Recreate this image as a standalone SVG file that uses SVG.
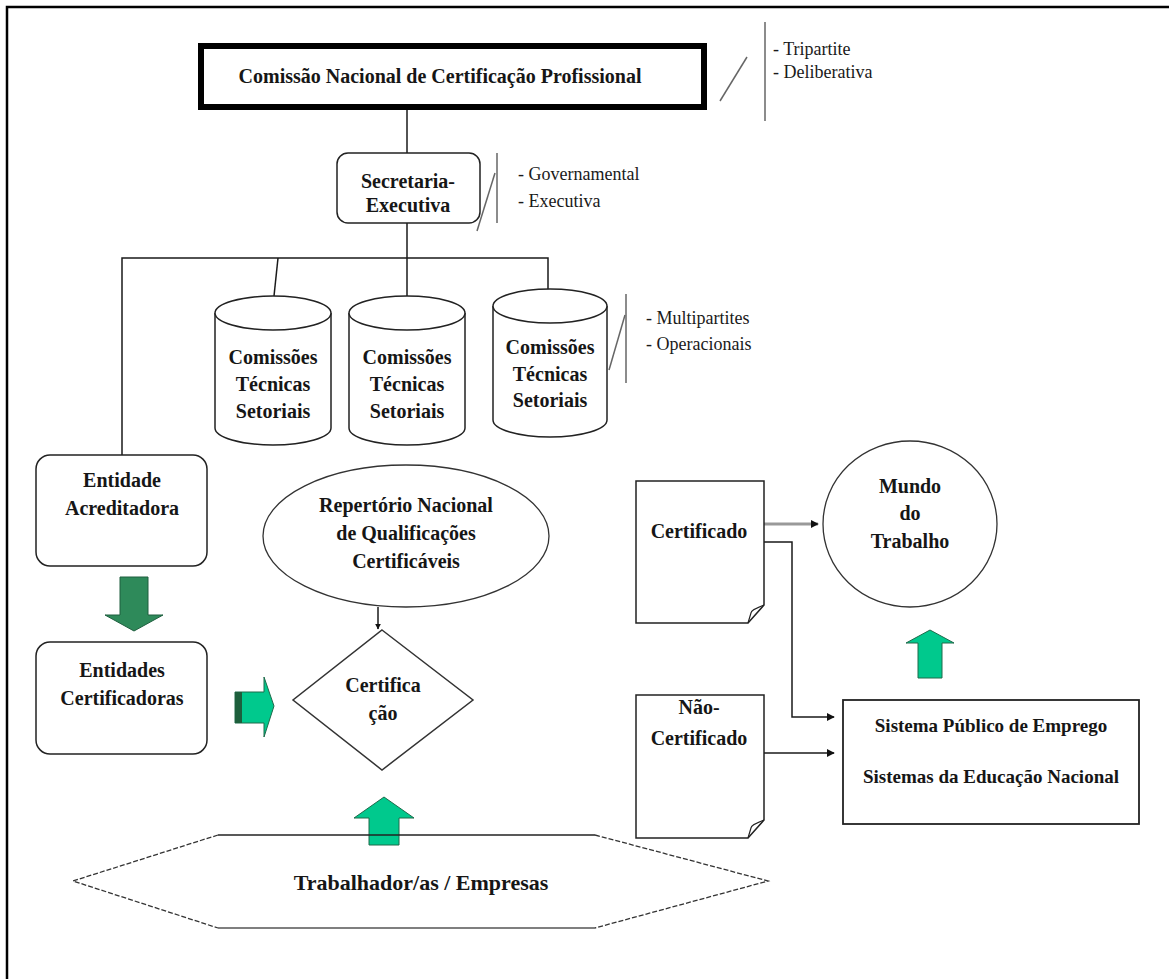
<svg xmlns="http://www.w3.org/2000/svg" width="1169" height="979" viewBox="0 0 1169 979">
<defs>
<marker id="ah" viewBox="0 0 10 10" refX="9" refY="5" markerWidth="8" markerHeight="8" markerUnits="userSpaceOnUse" orient="auto">
<path d="M0,0 L10,5 L0,10 Z" fill="#111"/>
</marker>
<marker id="ahs" viewBox="0 0 10 10" refX="9" refY="5" markerWidth="6" markerHeight="7" markerUnits="userSpaceOnUse" orient="auto">
<path d="M0,0 L10,5 L0,10 Z" fill="#111"/>
</marker>
</defs>
<style>
.t{font-family:"Liberation Serif","Times New Roman",serif;font-weight:bold;font-size:20px;fill:#161616;text-anchor:middle}
.a{font-family:"Liberation Serif","Times New Roman",serif;font-size:18px;fill:#1a1a1a}
.ln{stroke:#1a1a1a;stroke-width:1.5;fill:none}
.gl{stroke:#666;stroke-width:1.5;fill:none}
.box{fill:#fff;stroke:#222;stroke-width:1.5}
.dk{fill:#2e8a5a;stroke:#1f5f3f;stroke-width:1}
.tl{fill:#00c98d;stroke:#1e6a4a;stroke-width:1}
</style>
<rect width="1169" height="979" fill="#fff"/>
<!-- frame -->
<path d="M7,979 V7 H1169" stroke="#000" stroke-width="2.5" fill="none"/>

<g id="connectors">
<line class="ln" x1="407" y1="107" x2="407" y2="153"/>
<line class="ln" x1="407" y1="223" x2="407" y2="258"/>
<polyline class="ln" points="122,455 122,258 548,258 548,302"/>
<line class="ln" x1="278" y1="258" x2="274" y2="296"/>
<line class="ln" x1="407" y1="258" x2="407" y2="296"/>
<line class="ln" x1="378" y1="607" x2="378" y2="629" stroke-width="1.2" marker-end="url(#ahs)"/>
<line x1="764" y1="524" x2="818" y2="524" stroke="#999" stroke-width="3" marker-end="url(#ah)"/>
<polyline class="ln" points="764,542 792,542 792,717 834,717" marker-end="url(#ah)"/>
<line class="ln" x1="764" y1="753" x2="834" y2="753" marker-end="url(#ah)"/>
</g>

<g id="annot-top">
<line class="gl" x1="720" y1="101" x2="747" y2="57"/>
<line class="gl" x1="765" y1="22" x2="765" y2="121"/>
<text class="a" x="773" y="55">- Tripartite</text>
<text class="a" x="773" y="78">- Deliberativa</text>
</g>
<g id="annot-sec">
<line class="gl" x1="477" y1="231" x2="495" y2="173"/>
<line class="gl" x1="497" y1="153" x2="497" y2="223"/>
<text class="a" x="518" y="180">- Governamental</text>
<text class="a" x="518" y="207">- Executiva</text>
</g>
<g id="annot-cts">
<line class="gl" x1="609" y1="370" x2="625" y2="315"/>
<line class="gl" x1="626" y1="294" x2="626" y2="383"/>
<text class="a" x="646" y="324">- Multipartites</text>
<text class="a" x="646" y="350">- Operacionais</text>
</g>

<g id="comissao-nacional">
<rect x="201" y="46" width="503" height="61" fill="#fff" stroke="#000" stroke-width="6"/>
<text class="t" x="440" y="83">Comissão Nacional de Certificação Profissional</text>
</g>

<g id="secretaria">
<rect class="box" x="337" y="153" width="143" height="70" rx="11"/>
<text class="t" x="408" y="188">Secretaria-</text>
<text class="t" x="408" y="212">Executiva</text>
</g>

<g id="cts1">
<path class="box" d="M215,313 V428 A58,17 0 0 0 331,428 V313"/>
<ellipse class="box" cx="273" cy="313" rx="58" ry="17"/>
<text class="t" x="273" y="364">Comissões</text>
<text class="t" x="273" y="391">Técnicas</text>
<text class="t" x="273" y="418">Setoriais</text>
</g>
<g id="cts2">
<path class="box" d="M349,313 V428 A58,17 0 0 0 465,428 V313"/>
<ellipse class="box" cx="407" cy="313" rx="58" ry="17"/>
<text class="t" x="407" y="364">Comissões</text>
<text class="t" x="407" y="391">Técnicas</text>
<text class="t" x="407" y="418">Setoriais</text>
</g>
<g id="cts3">
<path class="box" d="M493,306 V420 A57,17 0 0 0 607,420 V306"/>
<ellipse class="box" cx="550" cy="306" rx="57" ry="17"/>
<text class="t" x="550" y="354">Comissões</text>
<text class="t" x="550" y="381">Técnicas</text>
<text class="t" x="550" y="407">Setoriais</text>
</g>

<g id="entidade-acreditadora">
<rect class="box" x="36" y="455" width="171" height="111" rx="14"/>
<text class="t" x="122" y="487">Entidade</text>
<text class="t" x="122" y="515">Acreditadora</text>
</g>

<g id="arrow-down">
<path class="dk" d="M120,577 H148 V615 H163 L134,631 L105,615 H120 Z"/>
</g>

<g id="entidades-certificadoras">
<rect class="box" x="36" y="642" width="171" height="112" rx="14"/>
<text class="t" x="122" y="677">Entidades</text>
<text class="t" x="122" y="705">Certificadoras</text>
</g>

<g id="arrow-right">
<path class="tl" d="M235,692 H264 V677 L274,706 L264,737 V723 H235 Z"/>
<rect x="235" y="692" width="7" height="31" fill="#1d5f3c"/>
</g>

<g id="repertorio">
<ellipse cx="406" cy="536" rx="143" ry="71" fill="#fff" stroke="#333" stroke-width="1.3"/>
<text class="t" x="406" y="512">Repertório Nacional</text>
<text class="t" x="406" y="540">de Qualificações</text>
<text class="t" x="406" y="568">Certificáveis</text>
</g>

<g id="certificacao">
<polygon points="382,630 473,700 382,770 293,700" fill="#fff" stroke="#333" stroke-width="1.5"/>
<text class="t" x="383" y="692">Certifica</text>
<text class="t" x="383" y="720">ção</text>
</g>

<g id="arrow-up-1">
<path class="tl" d="M369,845 V818 H354 L384,797 L414,818 H399 V845 Z"/>
</g>

<g id="trabalhadores">
<path d="M218,835 H595" stroke="#222" stroke-width="1.5"/>
<path d="M218,928 H595" stroke="#555" stroke-width="1.5"/>
<path d="M218,835 L73,881 L218,928 M595,835 L768,881 L595,928" stroke="#333" stroke-width="1.3" stroke-dasharray="5 2" fill="none"/>
<text class="t" x="421" y="890" style="font-size:22px">Trabalhador/as / Empresas</text>
</g>

<g id="certificado">
<path class="box" d="M636,481 H764 V605 L748,623 H636 Z"/>
<path d="M764,605 C757,608 751,610 751,613 L748,623" fill="none" stroke="#222" stroke-width="1.2"/>
<text class="t" x="699" y="538">Certificado</text>
</g>

<g id="nao-certificado">
<path class="box" d="M636,695 H764 V820 L748,838 H636 Z"/>
<path d="M764,820 C757,823 751,825 751,828 L748,838" fill="none" stroke="#222" stroke-width="1.2"/>
<text class="t" x="699" y="714">Não-</text>
<text class="t" x="699" y="745">Certificado</text>
</g>

<g id="mundo-trabalho">
<ellipse cx="910" cy="524" rx="87" ry="83" fill="#fff" stroke="#333" stroke-width="1.3"/>
<text class="t" x="910" y="493">Mundo</text>
<text class="t" x="910" y="520">do</text>
<text class="t" x="910" y="548">Trabalho</text>
</g>

<g id="arrow-up-2">
<path class="tl" d="M918,678 V643 H906 L930,630 L954,643 H942 V678 Z"/>
</g>

<g id="sistema">
<rect x="843" y="700" width="296" height="124" fill="#fff" stroke="#222" stroke-width="1.8"/>
<text class="t" x="991" y="732" style="font-size:19px">Sistema Público de Emprego</text>
<text class="t" x="991" y="783" style="font-size:19px">Sistemas da Educação Nacional</text>
</g>
</svg>
